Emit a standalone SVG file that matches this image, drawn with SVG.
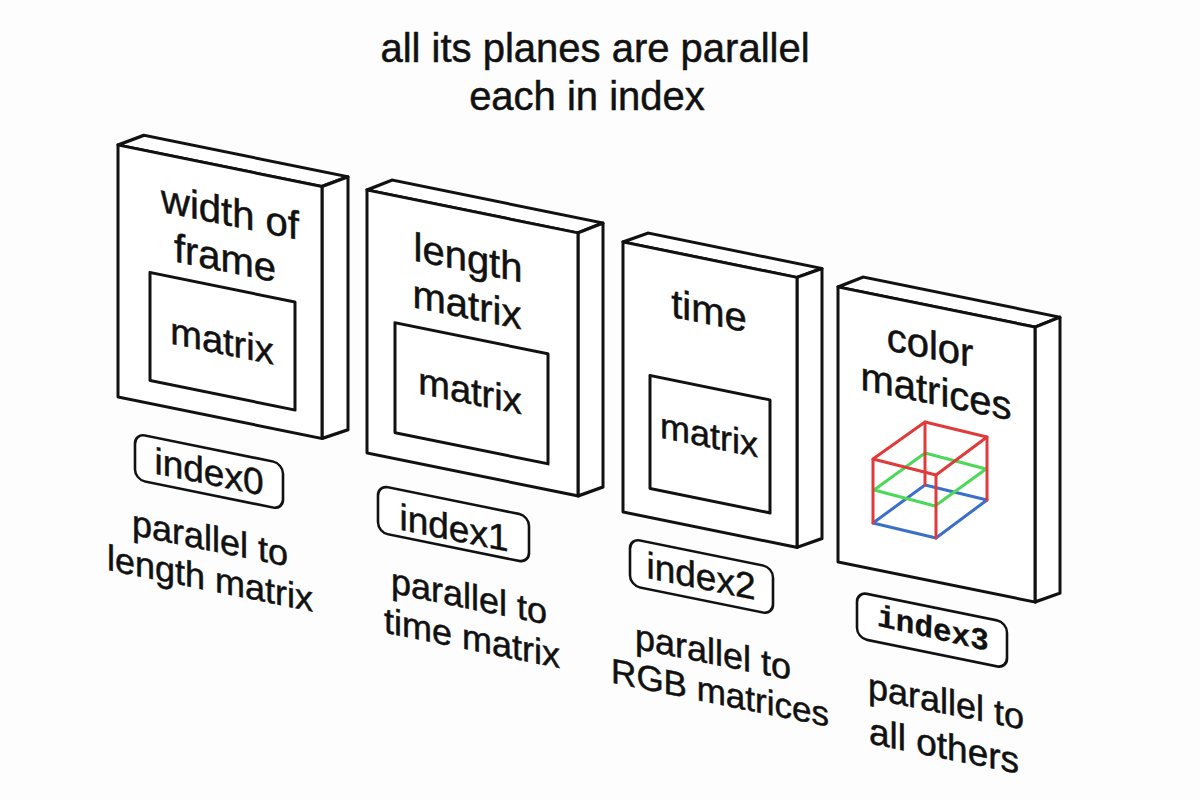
<svg xmlns="http://www.w3.org/2000/svg" width="1200" height="800" viewBox="0 0 1200 800">
<style>
.bg{fill:#fdfdfd}
.face{fill:#ffffff;stroke:#111;stroke-width:3;stroke-linejoin:round}
.inner{fill:none;stroke:#111;stroke-width:3;stroke-linejoin:round}
.tag{fill:#ffffff;stroke:#111;stroke-width:2.6}
text{font-family:"Liberation Sans","Noto Sans",Arial,sans-serif;fill:#111;stroke:#111;stroke-width:0.5;text-anchor:middle}
.title{font-size:40px}
.head{font-size:40px}
.mx{font-size:38px}
.idx{font-size:37px}
.lbl{font-size:36px}
.mono{font-family:"Liberation Mono","DejaVu Sans Mono",monospace;font-weight:bold;font-size:31px;stroke-width:0.3}
.cube{fill:none;stroke-width:3;stroke-linecap:round;stroke-linejoin:round}
</style>
<rect class="bg" x="0" y="0" width="1200" height="800"/>

<g id="title">
<text class="title" x="595" y="62">all its planes are parallel</text>
<text class="title" x="587" y="110">each in index</text>
</g>

<g id="plane0" transform="translate(118,145) skewY(11.5)">
<polygon class="face" points="0,0 204,0 230,-15 26,-15"/>
<polygon class="face" points="204,0 230,-15 230,238 204,252"/>
<rect class="face" x="0" y="0" width="204" height="252"/>
<text class="head" x="112" y="58">width of</text>
<text class="head" x="107" y="105">frame</text>
<rect class="inner" x="32" y="121" width="145" height="108"/>
<text class="mx" x="104" y="188">matrix</text>
<rect class="tag" x="17" y="285" width="148" height="46" rx="10"/>
<text class="idx" x="91" y="321">index0</text>
<text class="lbl" x="92" y="387">parallel to</text>
<text class="lbl" x="92" y="427">length matrix</text>
</g>

<g id="plane1" transform="translate(367,190) skewY(11.5)">
<polygon class="face" points="0,0 211,0 236,-15 25,-15"/>
<polygon class="face" points="211,0 236,-15 236,249 211,263"/>
<rect class="face" x="0" y="0" width="211" height="263"/>
<text class="head" x="101" y="61">length</text>
<text class="head" x="100" y="108">matrix</text>
<rect class="inner" x="28" y="127" width="153" height="110"/>
<text class="mx" x="103" y="193">matrix</text>
<rect class="tag" x="11" y="293" width="151" height="47" rx="10"/>
<text class="idx" x="87" y="333">index1</text>
<text class="lbl" x="102" y="398">parallel to</text>
<text class="lbl" x="105" y="439">time matrix</text>
</g>

<g id="plane2" transform="translate(623,242) skewY(11.5)">
<polygon class="face" points="0,0 174,0 199,-14 25,-14"/>
<polygon class="face" points="174,0 199,-14 199,256 174,270"/>
<rect class="face" x="0" y="0" width="174" height="270"/>
<text class="head" x="86" y="65">time</text>
<rect class="inner" x="27" y="128" width="120" height="113"/>
<text class="mx" x="86" y="188" style="font-size:36px">matrix</text>
<rect class="tag" x="7" y="295" width="143" height="47" rx="10"/>
<text class="idx" x="78" y="331">index2</text>
<text class="lbl" x="90" y="404">parallel to</text>
<text class="lbl" x="97" y="443" style="font-size:35px">RGB matrices</text>
</g>

<g id="plane3">
<g transform="translate(838,287) skewY(11.5)">
<polygon class="face" points="0,0 197,0 222,-15 25,-15"/>
<polygon class="face" points="197,0 222,-15 222,261 197,275"/>
<rect class="face" x="0" y="0" width="197" height="275"/>
<text class="head" x="92" y="53">color</text>
<text class="head" x="98" y="98">matrices</text>
<rect class="tag" x="19" y="301" width="150" height="46" rx="10"/>
<text class="mono" x="95" y="332" transform="rotate(1.5 95 322)">index3</text>
<text class="lbl" x="108" y="405">parallel to</text>
<text class="lbl" x="106" y="450" style="font-size:37px">all others</text>
</g>
<g id="rgb-cube">
<polygon class="cube" stroke="#3b6fc8" points="873,523 925,485 987,500 936,538"/>
<polygon class="cube" stroke="#4cd95a" points="874,490 925,453 986,469 935,506"/>
<g stroke="#e03a3a">
<line class="cube" x1="925" y1="422" x2="925" y2="485"/>
<line class="cube" x1="873" y1="459" x2="873" y2="523"/>
<line class="cube" x1="987" y1="437" x2="987" y2="500"/>
<line class="cube" x1="936" y1="475" x2="936" y2="538"/>
<polygon class="cube" points="873,459 925,422 987,437 936,475"/>
</g>
</g>
</g>
</svg>
